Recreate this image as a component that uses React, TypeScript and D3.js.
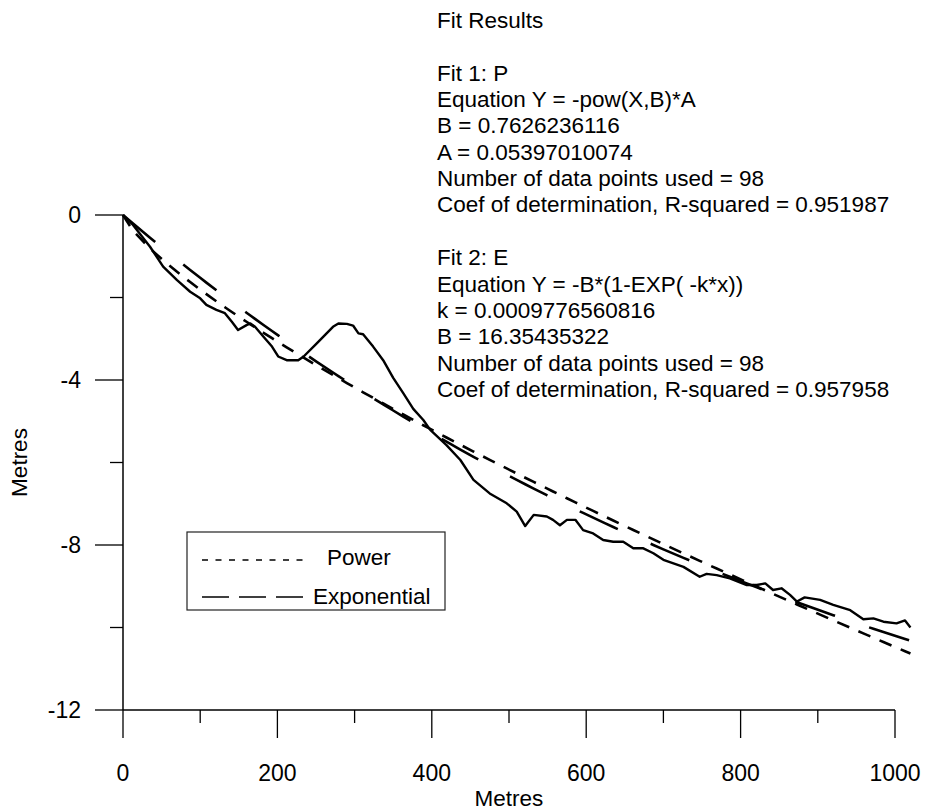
import React from "react";
import * as d3 from "d3";

// Measured profile (distance in metres, elevation in metres)
const distX = [0, 13, 35, 52, 70, 87, 100, 108, 121, 132, 141, 149, 160, 165, 171, 182, 193, 201, 212, 227, 234, 251, 272, 279, 290, 298, 305, 311, 324, 337, 350, 363, 376, 389, 398, 419, 437, 454, 475, 497, 510, 521, 532, 549, 557, 566, 575, 586, 596, 609, 622, 635, 648, 661, 674, 687, 700, 726, 747, 756, 769, 786, 808, 821, 832, 842, 853, 864, 873, 883, 903, 920, 942, 959, 972, 985, 1002, 1013, 1020];
const elevY = [0, -0.24, -0.77, -1.25, -1.58, -1.86, -2.02, -2.18, -2.3, -2.38, -2.59, -2.79, -2.67, -2.63, -2.71, -2.95, -3.19, -3.43, -3.52, -3.52, -3.43, -3.11, -2.71, -2.63, -2.64, -2.68, -2.87, -2.89, -3.19, -3.52, -3.95, -4.32, -4.7, -4.97, -5.21, -5.58, -5.94, -6.42, -6.75, -6.99, -7.19, -7.54, -7.27, -7.31, -7.39, -7.52, -7.39, -7.39, -7.64, -7.72, -7.88, -7.92, -7.92, -8.08, -8.08, -8.2, -8.36, -8.53, -8.77, -8.7, -8.73, -8.81, -8.97, -8.97, -8.93, -9.09, -9.05, -9.21, -9.37, -9.27, -9.33, -9.45, -9.58, -9.8, -9.78, -9.86, -9.9, -9.83, -10.0];

// Fit parameters as printed in the chart
const powerB = 0.7626236116;
const powerA = 0.05397010074;
const expK = 0.0009776560816;
const expB = 16.35435322;

const xTicks = [0, 100, 200, 300, 400, 500, 600, 700, 800, 900, 1000];
const xTickLabels = [0, 200, 400, 600, 800, 1000];
const yTicks = [0, -2, -4, -6, -8, -10, -12];
const yTickLabels = [0, -4, -8, -12];

const fitLines = [
  "Fit Results",
  "",
  "Fit 1: P",
  "Equation Y = -pow(X,B)*A",
  "B = 0.7626236116",
  "A = 0.05397010074",
  "Number of data points used = 98",
  "Coef of determination, R-squared = 0.951987",
  "",
  "Fit 2: E",
  "Equation Y = -B*(1-EXP( -k*x))",
  "k = 0.0009776560816",
  "B = 16.35435322",
  "Number of data points used = 98",
  "Coef of determination, R-squared = 0.957958",
];

const FONT = "'Liberation Sans', Arial, Helvetica, sans-serif";

export default function App() {
  const x = d3.scaleLinear().domain([0, 1000]).range([123, 895]);
  const y = d3.scaleLinear().domain([-12, 0]).range([710, 215]);

  const pts = distX.map((d, i) => [d, elevY[i]] as [number, number]);
  const line = d3
    .line<[number, number]>()
    .x((d) => x(d[0]))
    .y((d) => y(d[1]));

  const powerPts = distX.map((d) => [d, -Math.pow(d, powerB) * powerA] as [number, number]);
  const expPts = distX.map((d) => [d, -expB * (1 - Math.exp(-expK * d))] as [number, number]);

  return (
    <svg
      width={927}
      height={810}
      style={{ position: "absolute", left: 0, top: 0, background: "#fff" }}
      fontFamily={FONT}
    >
      <rect x={0} y={0} width={927} height={810} fill="#fff" />
      {/* axes */}
      <line x1={x(0)} x2={x(1000)} y1={y(-12)} y2={y(-12)} stroke="#000" strokeWidth={1.5} />
      <line x1={x(0)} x2={x(0)} y1={y(-12)} y2={y(0)} stroke="#000" strokeWidth={1.5} />
      {xTicks.map((t) => (
        <line
          key={"xt" + t}
          x1={x(t)}
          x2={x(t)}
          y1={y(-12)}
          y2={y(-12) + (t % 200 === 0 ? 28 : 13)}
          stroke="#000"
          strokeWidth={1.3}
        />
      ))}
      {yTicks.map((t) => (
        <line
          key={"yt" + t}
          x1={x(0) - (t % 4 === 0 ? 28 : 13)}
          x2={x(0)}
          y1={y(t)}
          y2={y(t)}
          stroke="#000"
          strokeWidth={1.3}
        />
      ))}
      {xTickLabels.map((t) => (
        <text key={"xl" + t} x={x(t)} y={781} fontSize={23} textAnchor="middle" fill="#000">
          {t}
        </text>
      ))}
      {yTickLabels.map((t) => (
        <text key={"yl" + t} x={81} y={y(t) + 8} fontSize={23} textAnchor="end" fill="#000">
          {t}
        </text>
      ))}
      <text x={(x(0) + x(1000)) / 2} y={806} fontSize={22.5} textAnchor="middle" fill="#000">
        Metres
      </text>
      <text
        transform={`translate(27,${(y(0) + y(-12)) / 2}) rotate(-90)`}
        fontSize={22.5}
        textAnchor="middle"
        fill="#000"
      >
        Metres
      </text>

      {/* fits */}
      <path d={line(powerPts) || ""} fill="none" stroke="#000" strokeWidth={2.6} strokeDasharray="13,10" />
      <path d={line(expPts) || ""} fill="none" stroke="#000" strokeWidth={2.6} strokeDasharray="42,36" />
      {/* data */}
      <path d={line(pts) || ""} fill="none" stroke="#000" strokeWidth={2.4} strokeLinejoin="round" />

      {/* legend */}
      <rect x={187} y={532} width={258} height={78} fill="#fff" stroke="#222" strokeWidth={1.2} />
      <line x1={202} x2={305} y1={560} y2={560} stroke="#000" strokeWidth={1.3} strokeDasharray="6,7.5" />
      <text x={327} y={565} fontSize={22.5} fill="#000">Power</text>
      <line x1={202} x2={303} y1={597} y2={597} stroke="#000" strokeWidth={1.3} strokeDasharray="27,10" />
      <text x={313} y={604} fontSize={22.5} fill="#000">Exponential</text>

      {/* fit results text */}
      {fitLines.map((s, i) =>
        s ? (
          <text key={"ft" + i} x={437} y={28 + i * 26.35} fontSize={22.5} fill="#000">
            {s}
          </text>
        ) : null
      )}
    </svg>
  );
}
